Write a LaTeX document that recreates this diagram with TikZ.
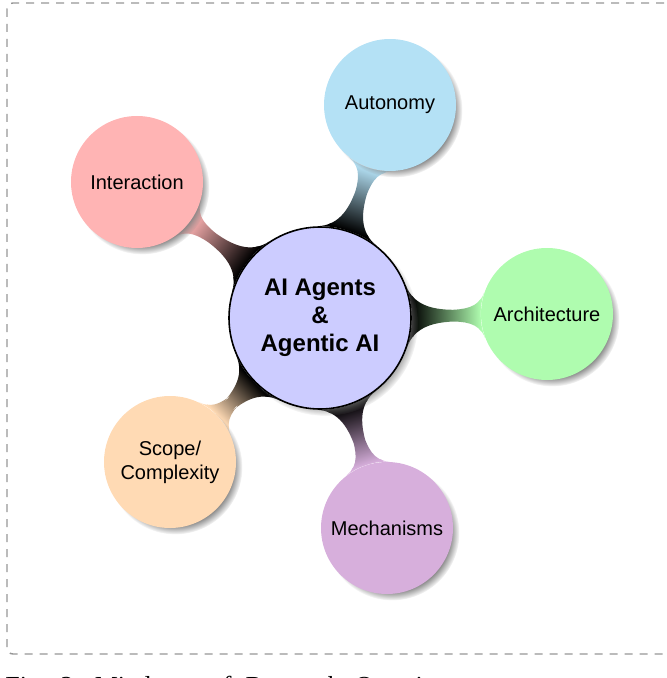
\documentclass[tikz,border=0pt]{standalone}
\usepackage{fontspec}
\setmainfont{Liberation Serif}
\setsansfont{Liberation Sans}
\usetikzlibrary{mindmap,shadows,backgrounds}
\definecolor{autoc}{RGB}{180,225,245}
\definecolor{archc}{RGB}{175,252,175}
\definecolor{mechc}{RGB}{215,175,220}
\definecolor{scopec}{RGB}{255,218,180}
\definecolor{interc}{RGB}{255,180,180}
\definecolor{rootc}{RGB}{204,204,255}
\definecolor{framec}{RGB}{150,150,150}
\tikzset{
  kid/.style={circle, minimum size=66pt, inner sep=0pt, align=center,
    font=\sffamily\fontsize{10}{12}\selectfont,
    circular drop shadow={shadow xshift=2.5pt, shadow yshift=-2.5pt, shadow scale=1.02}},
  hub/.style={circle, draw=black, line width=0.8pt, fill=rootc, minimum size=91pt,
    inner sep=0pt, align=center, font=\sffamily\bfseries\fontsize{12}{14}\selectfont,
    circular drop shadow={shadow xshift=2.5pt, shadow yshift=-2.5pt, shadow scale=1.02}},
  frame/.style={draw=framec, dash pattern=on 4pt off 3.5pt, line width=0.7pt, rounded corners=3pt},
  captiontext/.style={anchor=base west, inner sep=0pt, font=\rmfamily\fontsize{13}{15}\selectfont}
}
\begin{document}
\begin{tikzpicture}[x=0.5pt,y=-0.5pt]
\useasboundingbox (0,0) rectangle (667,678);
\node[hub] (root) at (320,318) {AI Agents\\\&\\Agentic AI};
\node[kid, fill=autoc] (auto) at (390,105) {Autonomy};
\node[kid, fill=archc] (arch) at (547,314) {Architecture};
\node[kid, fill=mechc] (mech) at (387,528) {Mechanisms};
\node[kid, fill=scopec] (scope) at (170,462) {Scope/\\Complexity};
\node[kid, fill=interc] (inter) at (137,182) {Interaction};
\begin{scope}[on background layer]
\draw[frame] (7,3) rectangle (674,654);
\begin{scope}[mindmap]
\path (root) to[circle connection bar switch color=from (black) to (autoc)] (auto);
\path (root) to[circle connection bar switch color=from (black) to (archc)] (arch);
\path (root) to[circle connection bar switch color=from (black) to (mechc)] (mech);
\path (root) to[circle connection bar switch color=from (black) to (scopec)] (scope);
\path (root) to[circle connection bar switch color=from (black) to (interc)] (inter);
\end{scope}
\end{scope}
\node[captiontext] (cap) at (5,694) {Fig.\hspace{7pt}2:\hspace{7pt}Mindmap\hspace{7pt}of\hspace{7pt}Research\hspace{7pt}Questions};
\end{tikzpicture}
\end{document}
